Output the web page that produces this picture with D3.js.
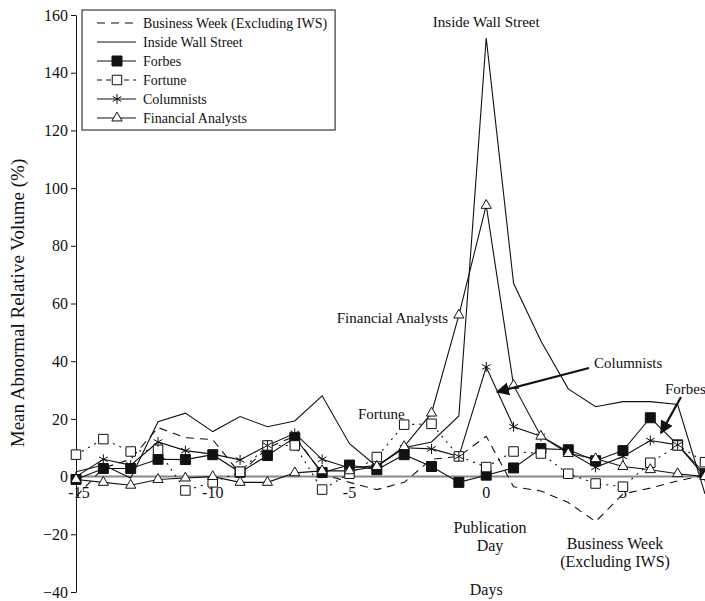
<!DOCTYPE html>
<html>
<head>
<meta charset='utf-8'>
<title>Abnormal volume</title>
<script src='https://cdn.jsdelivr.net/npm/d3@7'></script>
<style>
  body { margin: 0; background: #fff; }
  text { font-family: 'Liberation Serif', 'DejaVu Serif', serif; fill: #111; }
</style>
</head>
<body>
<svg width='705' height='601'></svg>
<script>
// days relative to publication
const days = d3.range(-15, 9)
const yTicks = [-40, -20, 0, 20, 40, 60, 80, 100, 120, 140, 160]
const xTicks = [-15, -10, -5, 0, 5]

// series values (days -15 .. +8)
const businessWeek = [-7, 3, 6, 17, 13.5, 12.8, 1, 10, 14, 1, -2, -4.5, -2, 6, 7, 14, -3.5, -5, -9, -15.6, -6, -4, -1.5, 0.5]
const insideWallStreet = [1.7, 4, -0.5, 19, 22, 15.6, 20.8, 17.3, 19.3, 28, 11.4, 3.5, 10, 12, 21, 152, 67, 47, 30.4, 24.2, 26, 26, 25, -6]
const forbes = [-1, 2.8, 2.8, 6, 5.9, 7.6, 1.5, 7.3, 13.5, 1.4, 4, 2.4, 7.6, 3.5, -2, 0.5, 3, 9.7, 9.3, 5.5, 9, 20.4, 11, 1]
const fortune = [7.6, 13, 8.7, 9.3, -4.8, -2, 1.7, 10.8, 10.8, -4.5, 1, 6.8, 18, 18.3, 7, 3.3, 8.7, 8, 1, -2.4, -3.5, 4.8, 10.8, 5]
const columnists = [0, 6, 4, 12, 9, 7.8, 5.8, 10.8, 15, 6, 3, 3.8, 10, 9.6, 7, 38, 17.3, 14, 8.6, 3.2, 7, 12.5, 11, 0]
const analysts = [-1, -2, -3, -1, -0.5, 0, -2, -2, 1.3, 2, 2, 3.5, 10.4, 22, 56, 94, 31.6, 14, 8, 6.2, 3.5, 2.4, 1, 0]

const svg = d3.select('svg')

const x = d3.scaleLinear().domain([-15, 8]).range([76, 705])
const y = d3.scaleLinear().domain([-40, 160]).range([592, 15])

// zero line
svg.append('line')
    .attr('x1', x(-15)).attr('x2', x(8))
    .attr('y1', y(0)).attr('y2', y(0))
    .attr('stroke', '#888').attr('stroke-width', 2)

// y axis
const yAxis = svg.append('g')
    .attr('transform', `translate(${x(-15)},0)`)
    .call(d3.axisLeft(y).tickValues(yTicks).tickSize(5).tickPadding(3).tickSizeOuter(0))
yAxis.select('.domain').attr('stroke', '#111')
yAxis.selectAll('line').attr('stroke', '#111')
yAxis.selectAll('text').attr('font-size', 16).attr('font-family', 'Liberation Serif')

// x tick labels sit just under the zero line
svg.append('g').selectAll('text')
    .data(xTicks)
    .enter()
    .append('text')
    .attr('x', d => x(d) + (d === -15 ? 3 : 0))
    .attr('y', y(0) + 21)
    .attr('text-anchor', 'middle')
    .attr('font-size', 16)
    .text(d => d)

const series = [
    { name: 'Business Week (Excluding IWS)', values: businessWeek, dash: '8,6', marker: null },
    { name: 'Inside Wall Street', values: insideWallStreet, dash: null, marker: null },
    { name: 'Forbes', values: forbes, dash: null, marker: 'filled' },
    { name: 'Fortune', values: fortune, dash: '2,5', legendDash: '5,4', marker: 'open' },
    { name: 'Columnists', values: columnists, dash: null, marker: 'star' },
    { name: 'Financial Analysts', values: analysts, dash: null, marker: 'tri' }
]

const line = d3.line().x((d, i) => x(days[i])).y(d => y(d))

svg.append('g').selectAll('path')
    .data(series)
    .enter()
    .append('path')
    .attr('d', d => line(d.values))
    .attr('fill', 'none')
    .attr('stroke', '#111')
    .attr('stroke-width', 1.1)
    .attr('stroke-dasharray', d => d.dash)

function drawMarker(g, type) {
    if (type === 'filled') {
        g.append('path').attr('d', d3.symbol(d3.symbolSquare, 100)())
            .attr('fill', '#111').attr('stroke', '#111')
    } else if (type === 'open') {
        g.append('path').attr('d', d3.symbol(d3.symbolSquare, 90)())
            .attr('fill', '#fff').attr('stroke', '#111').attr('stroke-width', 1)
    } else if (type === 'star') {
        g.append('path').attr('d', d3.symbol(d3.symbolAsterisk, 70)())
            .attr('fill', 'none').attr('stroke', '#111').attr('stroke-width', 1)
    } else if (type === 'tri') {
        g.append('path').attr('d', d3.symbol(d3.symbolTriangle, 45)())
            .attr('fill', '#fff').attr('stroke', '#111').attr('stroke-width', 1)
    }
}

series.filter(s => s.marker).forEach(s => {
    svg.append('g').selectAll('g')
        .data(s.values)
        .enter()
        .append('g')
        .attr('transform', (d, i) => `translate(${x(days[i])},${y(d)})`)
        .each(function () { drawMarker(d3.select(this), s.marker) })
})

// legend
const legend = svg.append('g')
const box = legend.append('rect')
    .attr('x', 82).attr('y', 10).attr('height', 120)
    .attr('fill', '#fff').attr('stroke', '#111').attr('stroke-width', 1)

const rows = legend.selectAll('g.row')
    .data(series)
    .enter()
    .append('g')
    .attr('class', 'row')
    .attr('transform', (d, i) => `translate(0,${23 + i * 19})`)
rows.append('line')
    .attr('x1', 97).attr('x2', 136)
    .attr('stroke', '#111').attr('stroke-width', 1.1)
    .attr('stroke-dasharray', d => d.legendDash || d.dash)
rows.each(function (d) {
    if (d.marker) {
        const g = d3.select(this).append('g').attr('transform', 'translate(117,0)')
        drawMarker(g, d.marker)
    }
})
rows.append('text')
    .attr('x', 143).attr('y', 5)
    .attr('font-size', 14)
    .text(d => d.name)
const widest = d3.max(rows.selectAll('text').nodes(), n => n.getComputedTextLength())
box.attr('width', 143 + widest + 8 - 82)

// annotations
function label(txt, xp, yp, size, anchor) {
    svg.append('text').attr('x', xp).attr('y', yp)
        .attr('text-anchor', anchor || 'start')
        .attr('font-size', size)
        .text(txt)
}
label('Inside Wall Street', x(0), 27, 15, 'middle')
label('Financial Analysts', 448, 323, 15, 'end')
label('Fortune', 358, 419, 15)
label('Columnists', 594, 368, 15)
label('Forbes', 665, 394, 15)
label('Publication', 490, 533, 16, 'middle')
label('Day', 490, 551, 16, 'middle')
label('Business Week', 615, 549, 16, 'middle')
label('(Excluding IWS)', 615, 567, 16, 'middle')
label('Days', x(0), 595, 16, 'middle')

// arrows
svg.append('defs').append('marker')
    .attr('id', 'head')
    .attr('viewBox', '0 0 10 10')
    .attr('refX', 9).attr('refY', 5)
    .attr('markerWidth', 6).attr('markerHeight', 6)
    .attr('orient', 'auto')
    .append('path').attr('d', 'M0,0 L10,5 L0,10 z').attr('fill', '#111')

svg.append('line')
    .attr('x1', 589).attr('y1', 368).attr('x2', 497).attr('y2', 392)
    .attr('stroke', '#111').attr('stroke-width', 2.2)
    .attr('marker-end', 'url(#head)')
svg.append('line')
    .attr('x1', 681).attr('y1', 397).attr('x2', 661).attr('y2', 433)
    .attr('stroke', '#111').attr('stroke-width', 2.2)
    .attr('marker-end', 'url(#head)')

// y label
svg.append('text')
    .attr('transform', 'translate(24,303) rotate(-90)')
    .attr('text-anchor', 'middle')
    .attr('font-size', 19)
    .text('Mean Abnormal Relative Volume (%)')
</script>
</body>
</html>
